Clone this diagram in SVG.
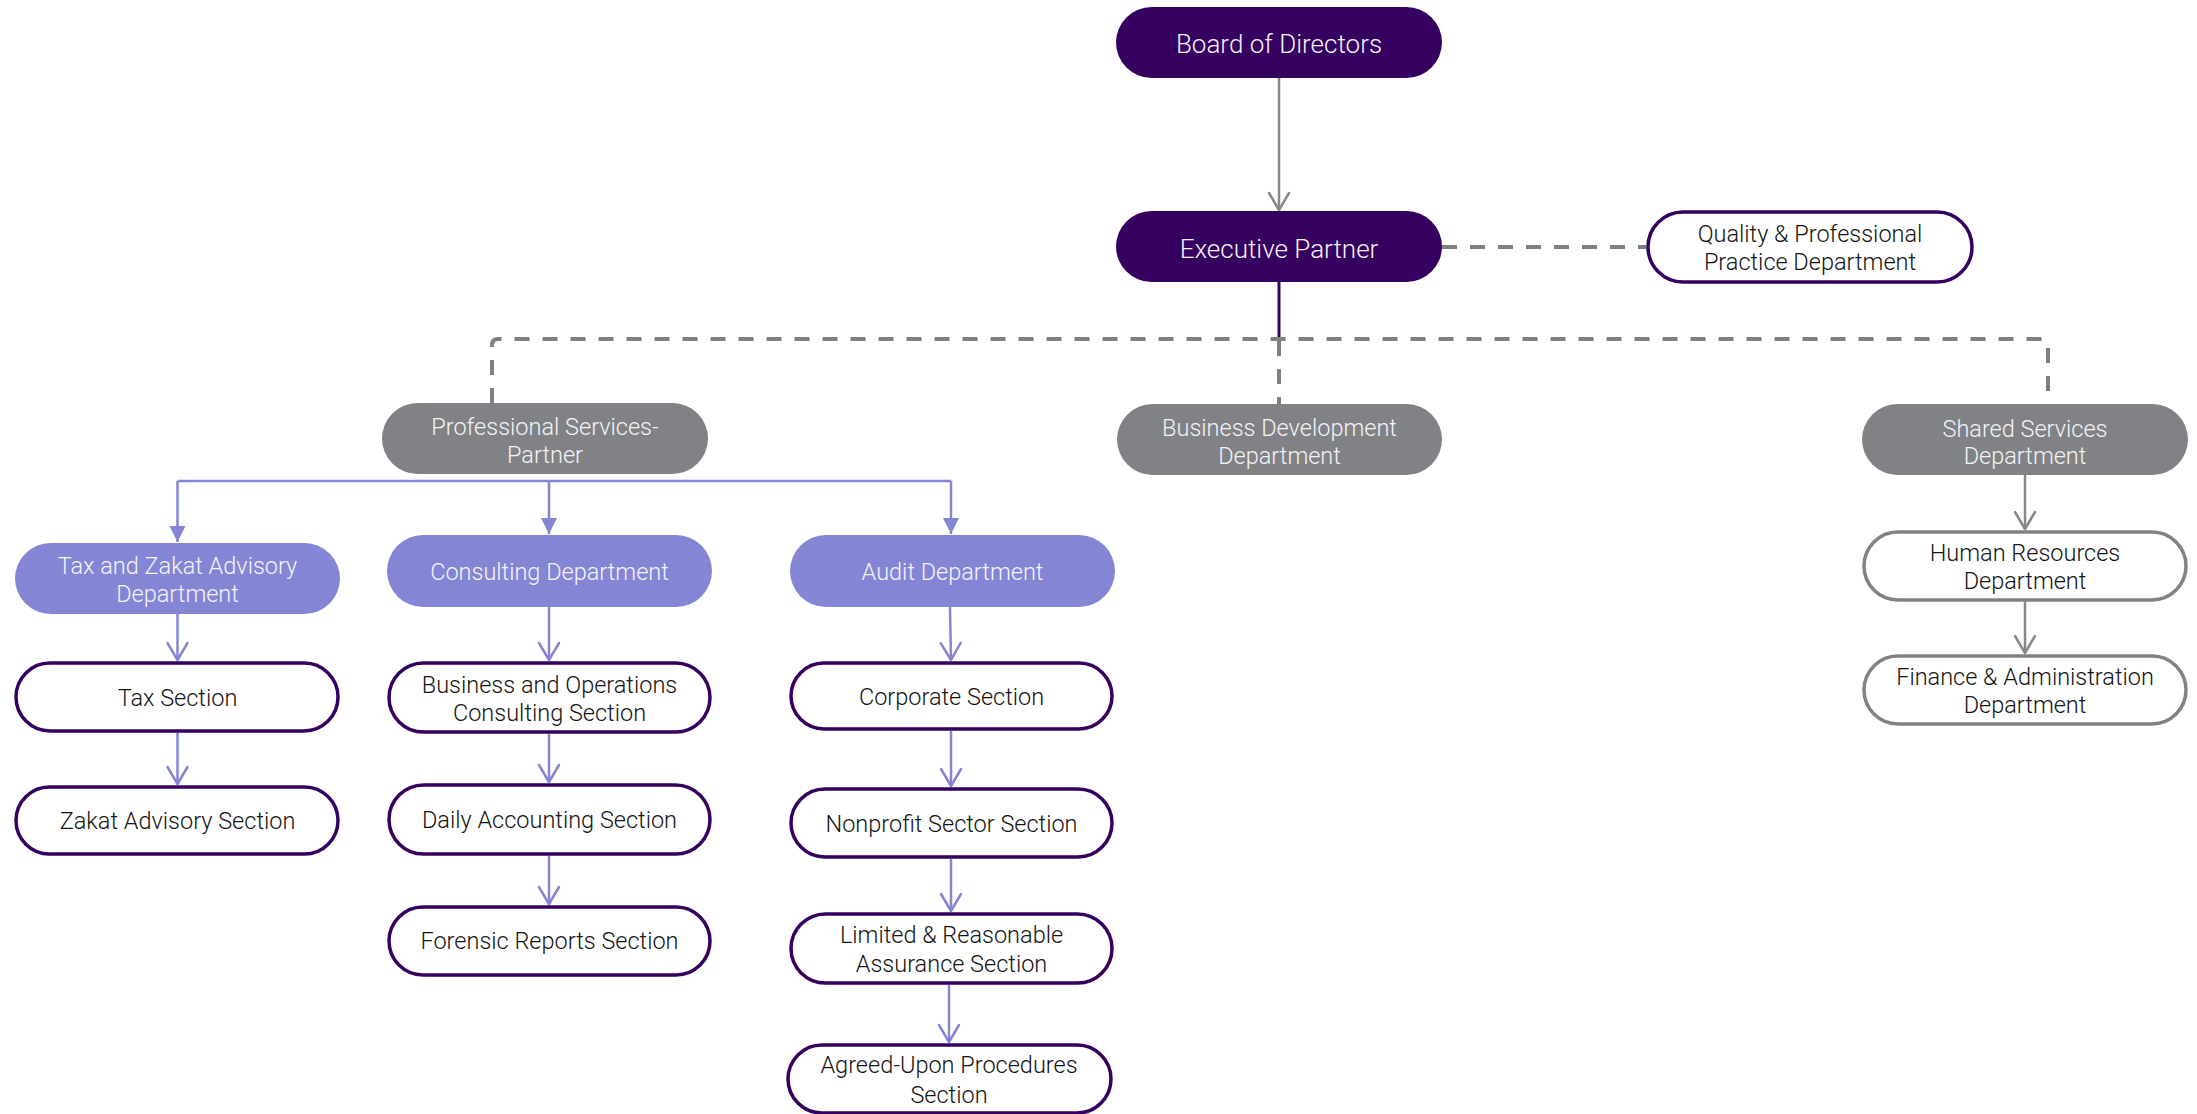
<svg xmlns="http://www.w3.org/2000/svg" width="2197" height="1114" viewBox="0 0 2197 1114">
<style>
  text { font-family: Roboto, "Liberation Sans", sans-serif; font-weight: 300; text-anchor: middle; }
  .t25 { font-size: 26px; }
  .t { font-size: 23.5px; }
  .lt { fill: #f4f2f7; }
  .dk { fill: #141414; }
  .dark { fill: #350060; }
  .grey { fill: #818285; }
  .lav { fill: #8585d6; }
  .sec { fill: #ffffff; stroke: #350060; stroke-width: 3.5; }
  .gsec { fill: #ffffff; stroke: #818285; stroke-width: 3.5; }
  .dash { fill: none; stroke: #808080; stroke-width: 4; stroke-dasharray: 15 13; }
  .gline { fill: none; stroke: #888888; stroke-width: 2.5; }
  .pline { fill: none; stroke: #8585d6; stroke-width: 2.5; }
</style>
<defs>
  <marker id="chevG" markerUnits="userSpaceOnUse" markerWidth="40" markerHeight="40" viewBox="-20 -20 40 40" refX="0" refY="0" orient="auto">
    <path d="M-17,-10 L0,0 L-17,10" fill="none" stroke="#888888" stroke-width="2.5" stroke-linejoin="round" stroke-linecap="round"/>
  </marker>
  <marker id="chevP" markerUnits="userSpaceOnUse" markerWidth="40" markerHeight="40" viewBox="-20 -20 40 40" refX="0" refY="0" orient="auto">
    <path d="M-17,-10 L0,0 L-17,10" fill="none" stroke="#8585d6" stroke-width="2.5" stroke-linejoin="round" stroke-linecap="round"/>
  </marker>
  <marker id="triP" markerUnits="userSpaceOnUse" markerWidth="40" markerHeight="40" viewBox="-20 -20 40 40" refX="0" refY="0" orient="auto">
    <path d="M-16,-8 L0,0 L-16,8 Z" fill="#8585d6"/>
  </marker>
</defs>
<rect x="0" y="0" width="2197" height="1114" fill="#ffffff"/>

<g id="connectors">
  <line class="gline" x1="1279" y1="78" x2="1279" y2="210" marker-end="url(#chevG)"/>
  <line class="dash" x1="1442" y1="247" x2="1646" y2="247"/>
  <line x1="1279" y1="282" x2="1279" y2="339" stroke="#350060" stroke-width="3"/>
  <path class="dash" d="M492,403 L492,345 Q492,339 498,339 L2042,339 Q2048,339 2048,345 L2048,404"/>
  <line class="dash" x1="1279" y1="341" x2="1279" y2="404"/>
  <path class="pline" d="M177.5,481 L951,481"/>
  <line class="pline" x1="177.5" y1="481" x2="177.5" y2="542" marker-end="url(#triP)"/>
  <line class="pline" x1="549" y1="481" x2="549" y2="534" marker-end="url(#triP)"/>
  <line class="pline" x1="951" y1="481" x2="951" y2="534" marker-end="url(#triP)"/>
  <line class="pline" x1="177.5" y1="614" x2="177.5" y2="660" marker-end="url(#chevP)"/>
  <line class="pline" x1="177.5" y1="733" x2="177.5" y2="784" marker-end="url(#chevP)"/>
  <line class="pline" x1="549" y1="607" x2="549" y2="660" marker-end="url(#chevP)"/>
  <line class="pline" x1="549" y1="734" x2="549" y2="782" marker-end="url(#chevP)"/>
  <line class="pline" x1="549" y1="856" x2="549" y2="904" marker-end="url(#chevP)"/>
  <line class="pline" x1="950" y1="607" x2="951" y2="660" marker-end="url(#chevP)"/>
  <line class="pline" x1="951" y1="731" x2="951" y2="786" marker-end="url(#chevP)"/>
  <line class="pline" x1="951" y1="859" x2="951" y2="911" marker-end="url(#chevP)"/>
  <line class="pline" x1="949" y1="985" x2="949" y2="1042" marker-end="url(#chevP)"/>
  <line class="gline" x1="2025" y1="475" x2="2025" y2="529" marker-end="url(#chevG)"/>
  <line class="gline" x1="2025" y1="601" x2="2025" y2="653" marker-end="url(#chevG)"/>
</g>

<g id="board">
  <rect class="dark" x="1116" y="7" width="326" height="71" rx="35.5"/>
  <text class="t25 lt" x="1279" y="53">Board of Directors</text>
</g>
<g id="executive-partner">
  <rect class="dark" x="1116" y="211" width="326" height="71" rx="35.5"/>
  <text class="t25 lt" x="1279" y="258">Executive Partner</text>
</g>
<g id="quality">
  <rect class="sec" x="1648" y="212" width="324" height="70" rx="35"/>
  <text class="t dk" x="1810" y="242">Quality &amp; Professional</text>
  <text class="t dk" x="1810" y="270">Practice Department</text>
</g>
<g id="professional-services">
  <rect class="grey" x="382" y="403" width="326" height="71" rx="35.5"/>
  <text class="t lt" x="545" y="435">Professional Services-</text>
  <text class="t lt" x="545" y="463">Partner</text>
</g>
<g id="business-development">
  <rect class="grey" x="1117" y="404" width="325" height="71" rx="35.5"/>
  <text class="t lt" x="1279.5" y="436">Business Development</text>
  <text class="t lt" x="1279.5" y="464">Department</text>
</g>
<g id="shared-services">
  <rect class="grey" x="1862" y="404" width="326" height="71" rx="35.5"/>
  <text class="t lt" x="2025" y="436.5">Shared Services</text>
  <text class="t lt" x="2025" y="463.5">Department</text>
</g>
<g id="human-resources">
  <rect class="gsec" x="1864" y="532" width="322" height="68" rx="34"/>
  <text class="t dk" x="2025" y="561">Human Resources</text>
  <text class="t dk" x="2025" y="589">Department</text>
</g>
<g id="finance">
  <rect class="gsec" x="1864" y="656" width="322" height="68" rx="34"/>
  <text class="t dk" x="2025" y="685">Finance &amp; Administration</text>
  <text class="t dk" x="2025" y="713">Department</text>
</g>
<g id="tax-zakat-dept">
  <rect class="lav" x="15" y="543" width="325" height="71" rx="35.5"/>
  <text class="t lt" x="177.5" y="574">Tax and Zakat Advisory</text>
  <text class="t lt" x="177.5" y="602">Department</text>
</g>
<g id="consulting-dept">
  <rect class="lav" x="387" y="535" width="325" height="72" rx="36"/>
  <text class="t lt" x="549.5" y="580">Consulting Department</text>
</g>
<g id="audit-dept">
  <rect class="lav" x="790" y="535" width="325" height="72" rx="36"/>
  <text class="t lt" x="952.5" y="580">Audit Department</text>
</g>
<g id="tax-section">
  <rect class="sec" x="16" y="663" width="322" height="68" rx="34"/>
  <text class="t dk" x="177.5" y="706">Tax Section</text>
</g>
<g id="zakat-section">
  <rect class="sec" x="16" y="787" width="322" height="67" rx="33.5"/>
  <text class="t dk" x="177.5" y="829">Zakat Advisory Section</text>
</g>
<g id="business-operations-section">
  <rect class="sec" x="389" y="663" width="321" height="69" rx="34.5"/>
  <text class="t dk" x="549.5" y="693">Business and Operations</text>
  <text class="t dk" x="549.5" y="721">Consulting Section</text>
</g>
<g id="daily-accounting-section">
  <rect class="sec" x="389" y="785" width="321" height="69" rx="34.5"/>
  <text class="t dk" x="549.5" y="828">Daily Accounting Section</text>
</g>
<g id="forensic-section">
  <rect class="sec" x="389" y="907" width="321" height="68" rx="34"/>
  <text class="t dk" x="549.5" y="949">Forensic Reports Section</text>
</g>
<g id="corporate-section">
  <rect class="sec" x="791" y="663" width="321" height="66" rx="33"/>
  <text class="t dk" x="951.5" y="705">Corporate Section</text>
</g>
<g id="nonprofit-section">
  <rect class="sec" x="791" y="789" width="321" height="68" rx="34"/>
  <text class="t dk" x="951.5" y="832">Nonprofit Sector Section</text>
</g>
<g id="limited-reasonable-section">
  <rect class="sec" x="791" y="914" width="321" height="69" rx="34.5"/>
  <text class="t dk" x="951.5" y="943">Limited &amp; Reasonable</text>
  <text class="t dk" x="951.5" y="972">Assurance Section</text>
</g>
<g id="agreed-upon-section">
  <rect class="sec" x="788" y="1045" width="323" height="68" rx="34"/>
  <text class="t dk" x="949" y="1073">Agreed-Upon Procedures</text>
  <text class="t dk" x="949" y="1103">Section</text>
</g>
</svg>
